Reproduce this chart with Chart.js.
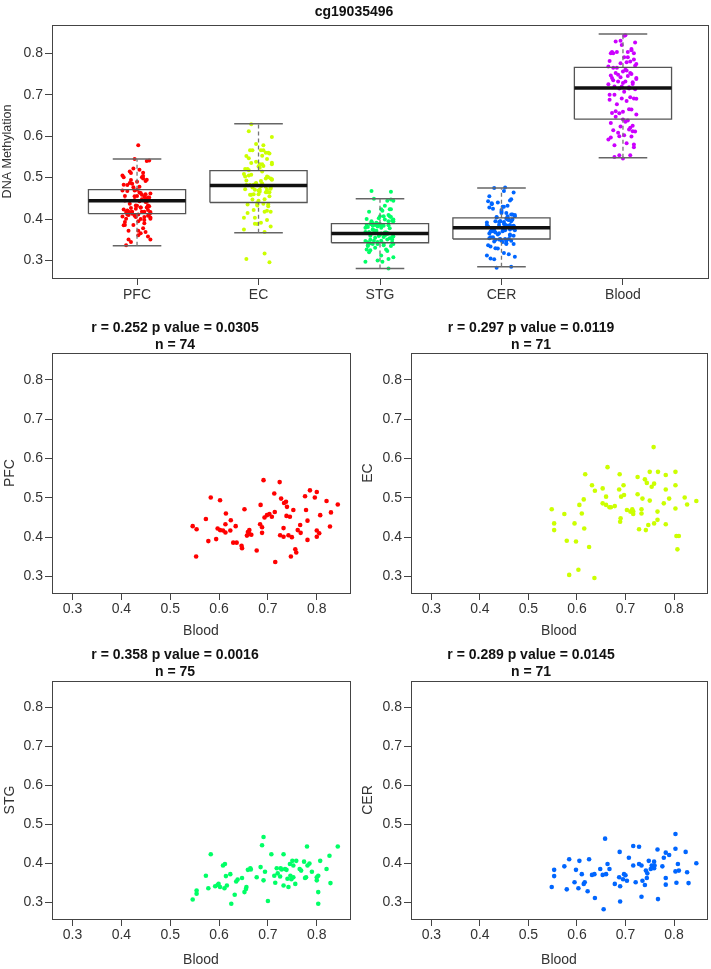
<!DOCTYPE html>
<html>
<head>
<meta charset="utf-8">
<script src="https://cdn.jsdelivr.net/npm/chart.js@4.4.1/dist/chart.umd.min.js"></script>
<style>
  body { margin: 0; background: #fff; }
  canvas { position: absolute; }
</style>
</head>
<body>
<canvas id="boxChart" width="711" height="310" style="left:0;top:0"></canvas>
<canvas id="pfcChart" width="355" height="330" style="left:0;top:310px"></canvas>
<canvas id="ecChart" width="356" height="330" style="left:355px;top:310px"></canvas>
<canvas id="stgChart" width="355" height="329" style="left:0;top:640px"></canvas>
<canvas id="cerChart" width="356" height="329" style="left:355px;top:640px"></canvas>
<script>
// --- data ---
const probe = 'cg19035496';
const tissues = ['PFC', 'EC', 'STG', 'CER', 'Blood'];
const colors = ['#FF0000', '#CCFF00', '#00FF66', '#0066FF', '#CC00FF'];
const tickValues = [0.3, 0.4, 0.5, 0.6, 0.7, 0.8];

// box statistics
const q1 = [0.413, 0.440, 0.343, 0.352, 0.641];
const med = [0.444, 0.481, 0.365, 0.379, 0.716];
const q3 = [0.471, 0.517, 0.389, 0.403, 0.766];
const whiskLo = [0.336, 0.367, 0.281, 0.285, 0.548];
const whiskHi = [0.545, 0.630, 0.449, 0.475, 0.846];

// paired samples (blood vs brain region)
const pfcBlood = [0.546,0.554,0.553,0.573,0.578,0.583,0.594,0.597,0.602,0.602,0.608,0.614,0.613,0.613,0.623,0.624,0.629,0.634,0.636,0.646,0.647,0.652,0.657,0.659,0.662,0.666,0.677,0.684,0.685,0.688,0.691,0.693,0.698,0.703,0.708,0.713,0.714,0.715,0.724,0.725,0.727,0.732,0.732,0.733,0.737,0.738,0.739,0.745,0.747,0.749,0.752,0.756,0.758,0.761,0.766,0.767,0.776,0.778,0.781,0.781,0.786,0.796,0.800,0.800,0.800,0.807,0.820,0.827,0.829,0.843,0.662,0.688,0.742,0.805];
const pfcVals = [0.428,0.420,0.351,0.446,0.390,0.501,0.395,0.422,0.494,0.418,0.417,0.460,0.433,0.412,0.417,0.443,0.386,0.428,0.386,0.378,0.372,0.471,0.404,0.413,0.418,0.406,0.366,0.433,0.482,0.411,0.545,0.450,0.456,0.459,0.452,0.511,0.464,0.337,0.540,0.405,0.498,0.423,0.401,0.487,0.490,0.454,0.477,0.452,0.351,0.400,0.469,0.369,0.361,0.418,0.431,0.411,0.504,0.469,0.442,0.393,0.519,0.501,0.515,0.417,0.401,0.456,0.492,0.427,0.463,0.483,0.408,0.425,0.405,0.410];

const ecBlood = [0.548,0.553,0.553,0.574,0.579,0.584,0.595,0.598,0.603,0.605,0.610,0.614,0.615,0.617,0.625,0.631,0.636,0.637,0.653,0.653,0.660,0.660,0.663,0.667,0.670,0.678,0.687,0.688,0.689,0.690,0.691,0.696,0.697,0.703,0.710,0.714,0.716,0.716,0.725,0.725,0.728,0.733,0.733,0.735,0.740,0.742,0.744,0.747,0.750,0.750,0.754,0.758,0.759,0.759,0.766,0.766,0.767,0.779,0.783,0.783,0.783,0.790,0.803,0.803,0.803,0.805,0.807,0.810,0.822,0.827,0.846];
const ecVals = [0.471,0.435,0.418,0.459,0.391,0.304,0.435,0.389,0.317,0.482,0.460,0.496,0.422,0.560,0.375,0.532,0.296,0.518,0.524,0.486,0.503,0.482,0.578,0.476,0.476,0.479,0.521,0.560,0.439,0.448,0.503,0.532,0.507,0.469,0.465,0.471,0.465,0.459,0.553,0.509,0.420,0.471,0.460,0.498,0.547,0.418,0.538,0.431,0.493,0.566,0.528,0.629,0.536,0.435,0.444,0.465,0.566,0.486,0.521,0.558,0.433,0.498,0.566,0.532,0.473,0.403,0.369,0.403,0.501,0.483,0.492];

const stgBlood = [0.546,0.554,0.554,0.573,0.578,0.583,0.592,0.599,0.602,0.608,0.611,0.614,0.616,0.623,0.625,0.632,0.635,0.638,0.647,0.652,0.656,0.659,0.664,0.677,0.685,0.688,0.691,0.691,0.694,0.700,0.707,0.713,0.715,0.718,0.725,0.726,0.732,0.732,0.735,0.740,0.742,0.745,0.746,0.750,0.752,0.756,0.758,0.765,0.774,0.776,0.780,0.781,0.790,0.800,0.803,0.803,0.803,0.807,0.820,0.826,0.828,0.843,0.597,0.612,0.655,0.665,0.720,0.728,0.738,0.748,0.752,0.768,0.778,0.785,0.800];
const stgVals = [0.308,0.331,0.323,0.369,0.337,0.424,0.342,0.348,0.340,0.395,0.337,0.368,0.344,0.373,0.297,0.320,0.354,0.359,0.363,0.327,0.340,0.384,0.388,0.365,0.391,0.447,0.468,0.357,0.379,0.304,0.424,0.369,0.351,0.388,0.367,0.388,0.424,0.344,0.386,0.361,0.340,0.399,0.369,0.407,0.365,0.348,0.407,0.386,0.405,0.363,0.444,0.395,0.379,0.357,0.369,0.327,0.297,0.407,0.386,0.420,0.350,0.444,0.345,0.399,0.335,0.385,0.375,0.385,0.384,0.360,0.395,0.382,0.365,0.400,0.365];

const cerBlood = [0.548,0.553,0.553,0.574,0.579,0.584,0.595,0.598,0.603,0.605,0.610,0.614,0.616,0.622,0.625,0.631,0.636,0.637,0.648,0.653,0.655,0.658,0.660,0.663,0.667,0.678,0.687,0.688,0.689,0.689,0.697,0.703,0.707,0.716,0.716,0.721,0.728,0.728,0.733,0.733,0.735,0.740,0.742,0.744,0.748,0.752,0.754,0.759,0.759,0.766,0.767,0.776,0.779,0.783,0.783,0.783,0.790,0.803,0.803,0.803,0.805,0.808,0.810,0.824,0.827,0.830,0.846,0.700,0.745,0.760,0.695];
const cerVals = [0.340,0.384,0.368,0.393,0.334,0.411,0.352,0.384,0.337,0.407,0.373,0.348,0.352,0.329,0.411,0.371,0.373,0.312,0.386,0.371,0.283,0.464,0.373,0.399,0.386,0.348,0.365,0.430,0.342,0.303,0.373,0.356,0.415,0.445,0.395,0.352,0.443,0.399,0.395,0.315,0.356,0.345,0.382,0.363,0.407,0.386,0.395,0.405,0.388,0.436,0.309,0.393,0.415,0.428,0.363,0.346,0.422,0.476,0.438,0.380,0.351,0.399,0.382,0.430,0.378,0.350,0.401,0.370,0.375,0.395,0.360];

// unpaired samples that appear only in the boxplot
const pfcExtra = [0.578,0.541,0.522,0.512,0.505,0.495,0.485,0.478,0.468,0.462,0.455,0.448,0.445,0.441,0.437,0.432,0.428,0.421,0.415,0.408,0.398,0.385,0.372,0.358,0.345];
const ecExtra = [0.612,0.598,0.581,0.566,0.552,0.545,0.535,0.527,0.515,0.505,0.495,0.487,0.478,0.472,0.466,0.455,0.447,0.437,0.415,0.398,0.388,0.382];
const stgExtra = [0.466,0.449,0.432,0.418,0.410,0.402,0.396,0.390,0.385,0.381,0.378,0.372,0.368,0.365,0.362,0.358,0.355,0.351,0.347,0.341,0.335,0.325,0.312,0.300,0.281];
const cerExtra = [0.475,0.468,0.455,0.448,0.440,0.432,0.425,0.418,0.410,0.404,0.398,0.392,0.387,0.382,0.378,0.372,0.366,0.360,0.354,0.347,0.340,0.330,0.318,0.305,0.285];
const bloodExtra = [0.842,0.830,0.810,0.800,0.790,0.770,0.765,0.760,0.740,0.730,0.720,0.715,0.700,0.690,0.660,0.640,0.620,0.600,0.580,0.550];

// fixed horizontal jitter offsets (category units) for the strip points
const jitter = [0.03,-0.08,0.11,-0.02,0.06,-0.11,0.01,0.09,-0.05,0.04,-0.09,0.07,-0.01,0.10,-0.06,0.02,-0.10,0.08,-0.03,0.05,-0.07,0.00,0.11,-0.04,0.06,-0.12,0.03,0.09,-0.08,0.01,-0.02,0.07,-0.10,0.04,0.10,-0.05,0.02,-0.09,0.08,-0.01,0.05,-0.11,0.11,-0.06,0.00,0.06,-0.03,0.09,-0.07,0.03,-0.12,0.07,0.01,-0.04,0.10,-0.08,0.05,-0.02,0.08,-0.10,0.02,0.04,-0.06,0.11,-0.09,0.00,0.07,-0.05,0.03,-0.11,0.09,-0.01,0.06,-0.07,0.01,0.10,-0.03,0.05,-0.12,0.08,-0.04,0.02,-0.08,0.11,-0.02,0.04,-0.10,0.07,-0.06,0.00];

const groupValues = [
    pfcVals.concat(pfcExtra),
    ecVals.concat(ecExtra),
    stgVals.concat(stgExtra),
    cerVals.concat(cerExtra),
    stgBlood.concat(bloodExtra)
];

// --- shared settings ---
Chart.defaults.font.family = '"Liberation Sans", Arial, sans-serif';
Chart.defaults.color = '#333';
const axisMin = 0.258, axisMax = 0.868;

const framePlugin = {
    id: 'frame',
    afterDraw(chart) {
        const a = chart.chartArea, ctx = chart.ctx;
        ctx.save();
        ctx.strokeStyle = '#444';
        ctx.lineWidth = 1;
        ctx.strokeRect(Math.round(a.left) + 0.5, Math.round(a.top) + 0.5, Math.round(a.right - a.left), Math.round(a.bottom - a.top));
        ctx.restore();
    }
};

function axisGrid() {
    return { display: true, drawOnChartArea: false, drawTicks: true, tickLength: 7, color: '#444' };
}

function seg(points, color, width, dash) {
    return {
        type: 'scatter', data: points, showLine: true, borderColor: color, borderWidth: width,
        borderDash: dash || [], pointRadius: 0, pointHoverRadius: 0, fill: false
    };
}

// --- boxplot with jittered points ---
const boxSets = [];
const pointSets = [];
tissues.forEach((t, g) => {
    const x = g + 1;
    boxSets.push(seg([{x: x - 0.4, y: med[g]}, {x: x + 0.4, y: med[g]}], '#111', 3.5));
    boxSets.push(seg([{x: x - 0.4, y: q1[g]}, {x: x + 0.4, y: q1[g]}, {x: x + 0.4, y: q3[g]}, {x: x - 0.4, y: q3[g]}, {x: x - 0.4, y: q1[g]}], '#555', 1.3));
    boxSets.push(seg([{x: x, y: q3[g]}, {x: x, y: whiskHi[g]}], '#777', 1.3, [4, 3]));
    boxSets.push(seg([{x: x, y: whiskLo[g]}, {x: x, y: q1[g]}], '#777', 1.3, [4, 3]));
    boxSets.push(seg([{x: x - 0.2, y: whiskHi[g]}, {x: x + 0.2, y: whiskHi[g]}], '#666', 1.5));
    boxSets.push(seg([{x: x - 0.2, y: whiskLo[g]}, {x: x + 0.2, y: whiskLo[g]}], '#666', 1.5));
    pointSets.push({
        type: 'scatter',
        data: groupValues[g].map((v, i) => ({x: x + jitter[(i + g * 11) % jitter.length], y: v})),
        pointRadius: 2, pointBorderWidth: 0, pointBackgroundColor: colors[g], pointHoverRadius: 0
    });
});

new Chart(document.getElementById('boxChart'), {
    type: 'scatter',
    data: { datasets: boxSets.concat(pointSets) },
    options: {
        responsive: false,
        animation: false,
        layout: { padding: { left: 0, right: 3, top: 0, bottom: 0 } },
        plugins: {
            legend: { display: false },
            tooltip: { enabled: false },
            title: {
                display: true, text: probe, color: '#111',
                font: { size: 14, weight: 'bold', lineHeight: 1.2 },
                padding: { top: 4, bottom: 4.2 }
            }
        },
        scales: {
            x: {
                type: 'linear', min: 0.3, max: 5.7,
                afterBuildTicks: s => { s.ticks = tissues.map((t, i) => ({value: i + 1})); },
                afterFit: s => { s.height = 32; },
                ticks: { callback: v => tissues[v - 1], autoSkip: false, maxRotation: 0, padding: 2, font: { size: 14 } },
                grid: axisGrid(),
                border: { display: false }
            },
            y: {
                type: 'linear', min: axisMin, max: axisMax,
                afterBuildTicks: s => { s.ticks = tickValues.map(v => ({value: v})); },
                afterFit: s => { s.width = 52; },
                ticks: { callback: v => v.toFixed(1), padding: 2, font: { size: 14 } },
                grid: axisGrid(),
                border: { display: false },
                title: { display: true, text: 'DNA Methylation', font: { size: 12.5 }, padding: { top: 0, bottom: 0 } }
            }
        }
    },
    plugins: [framePlugin]
});

// --- blood vs brain region scatter panels ---
function makeScatter(id, blood, vals, color, region, r, p, yWidth, rightPad, xHeight, titlePad) {
    new Chart(document.getElementById(id), {
        type: 'scatter',
        data: {
            datasets: [{
                data: blood.map((b, i) => ({x: b, y: vals[i]})),
                pointRadius: 2.3, pointBorderWidth: 0, pointBackgroundColor: color, pointHoverRadius: 0
            }]
        },
        options: {
            responsive: false,
            animation: false,
            layout: { padding: { left: 0, right: rightPad, top: 0, bottom: 0 } },
            plugins: {
                legend: { display: false },
                tooltip: { enabled: false },
                title: {
                    display: true,
                    text: ['r = ' + r + ' p value = ' + p, 'n = ' + blood.length],
                    color: '#111',
                    font: { size: 14, weight: 'bold', lineHeight: 1.2 },
                    padding: titlePad
                }
            },
            scales: {
                x: {
                    type: 'linear', min: axisMin, max: axisMax,
                    afterBuildTicks: s => { s.ticks = tickValues.map(v => ({value: v})); },
                    afterFit: s => { s.height = xHeight; },
                    ticks: { callback: v => v.toFixed(1), maxRotation: 0, padding: 1, font: { size: 14 } },
                    grid: axisGrid(),
                    border: { display: false },
                    title: { display: true, text: 'Blood', font: { size: 14 }, padding: { top: 0, bottom: 0 } }
                },
                y: {
                    type: 'linear', min: axisMin, max: axisMax,
                    afterBuildTicks: s => { s.ticks = tickValues.map(v => ({value: v})); },
                    afterFit: s => { s.width = yWidth; },
                    ticks: { callback: v => v.toFixed(1), padding: 2, font: { size: 14 } },
                    grid: axisGrid(),
                    border: { display: false },
                    title: { display: true, text: region, font: { size: 14 }, padding: { top: yWidth > 52 ? 4.6 : 1.6, bottom: 0 } }
                }
            }
        },
        plugins: [framePlugin]
    });
}

makeScatter('pfcChart', pfcBlood, pfcVals, colors[0], 'PFC', '0.252', '0.0305', 52, 5, 47, { top: 9.5, bottom: 0 });
makeScatter('ecChart', ecBlood, ecVals, colors[1], 'EC', '0.297', '0.0119', 56, 4, 47, { top: 9.5, bottom: 0 });
makeScatter('stgChart', stgBlood, stgVals, colors[2], 'STG', '0.358', '0.0016', 52, 5, 50, { top: 6.5, bottom: 0.9 });
makeScatter('cerChart', cerBlood, cerVals, colors[3], 'CER', '0.289', '0.0145', 56, 4, 50, { top: 6.5, bottom: 0.9 });
</script>
</body>
</html>
